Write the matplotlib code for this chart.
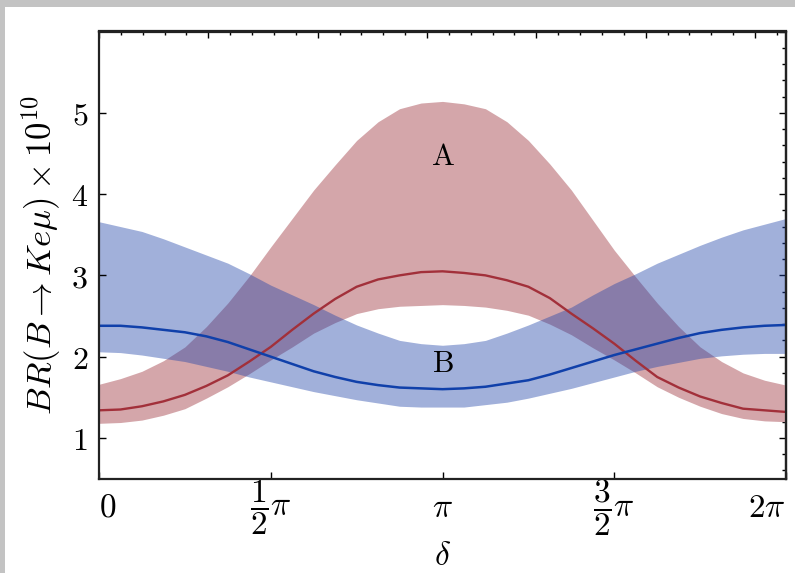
import numpy as np
import matplotlib
matplotlib.use('Agg')
import matplotlib.pyplot as plt
from matplotlib.patches import Rectangle
from matplotlib.ticker import MultipleLocator, NullFormatter

plt.rcParams['mathtext.fontset'] = 'cm'
plt.rcParams['font.family'] = 'serif'
plt.rcParams['font.serif'] = ['DejaVu Serif']

# phase delta sampled every pi/16 from 0 to 2pi
delta = np.linspace(0, 2 * np.pi, 33)

# scenario A: central value and band
red_mid = [1.34, 1.35, 1.39, 1.45, 1.53, 1.64, 1.77, 1.94, 2.12, 2.33, 2.53,
           2.71, 2.86, 2.95, 3.00, 3.04, 3.05, 3.03, 3.00, 2.94, 2.86, 2.72,
           2.53, 2.35, 2.16, 1.95, 1.75, 1.62, 1.51, 1.43, 1.36, 1.34, 1.32]
red_hi = [1.66, 1.73, 1.82, 1.95, 2.12, 2.37, 2.66, 2.99, 3.35, 3.70, 4.05,
          4.36, 4.66, 4.89, 5.05, 5.12, 5.14, 5.11, 5.05, 4.89, 4.66, 4.37,
          4.05, 3.68, 3.31, 2.98, 2.66, 2.37, 2.12, 1.94, 1.80, 1.71, 1.65]
red_lo = [1.18, 1.19, 1.22, 1.28, 1.36, 1.49, 1.63, 1.79, 1.96, 2.12, 2.29,
          2.42, 2.53, 2.59, 2.62, 2.63, 2.64, 2.63, 2.61, 2.57, 2.51, 2.40,
          2.27, 2.11, 1.96, 1.80, 1.63, 1.50, 1.39, 1.30, 1.24, 1.21, 1.20]

# scenario B: central value and band
blue_mid = [2.38, 2.38, 2.36, 2.33, 2.30, 2.25, 2.18, 2.09, 2.00, 1.91, 1.82,
            1.75, 1.69, 1.65, 1.62, 1.61, 1.60, 1.61, 1.63, 1.67, 1.71, 1.78,
            1.86, 1.94, 2.02, 2.09, 2.16, 2.23, 2.29, 2.33, 2.36, 2.38, 2.39]
blue_hi = [3.66, 3.60, 3.54, 3.45, 3.35, 3.25, 3.15, 3.02, 2.88, 2.76, 2.64,
           2.51, 2.39, 2.29, 2.20, 2.16, 2.14, 2.16, 2.20, 2.29, 2.39, 2.50,
           2.61, 2.76, 2.90, 3.02, 3.15, 3.26, 3.37, 3.47, 3.56, 3.63, 3.70]
blue_lo = [2.06, 2.05, 2.02, 1.98, 1.94, 1.88, 1.82, 1.75, 1.69, 1.63, 1.57,
           1.52, 1.47, 1.43, 1.39, 1.38, 1.38, 1.38, 1.41, 1.44, 1.49, 1.55,
           1.61, 1.68, 1.75, 1.82, 1.88, 1.93, 1.98, 2.01, 2.03, 2.04, 2.04]

xtick_pos = [0, np.pi / 2, np.pi, 3 * np.pi / 2, 2 * np.pi]
xtick_labels = [r'$0$', r'$\dfrac{1}{2}\pi$', r'$\pi$', r'$\dfrac{3}{2}\pi$', r'$2\pi$']
ytick_pos = [1, 2, 3, 4, 5]

fig = plt.figure(figsize=(7.95, 5.73), dpi=100)
fig.patch.set_facecolor('#c3c3c3')
fig.add_artist(Rectangle((5 / 795, 0), 1, 1 - 7 / 573, transform=fig.transFigure,
                         facecolor='white', edgecolor='none', zorder=-1))

ax = fig.add_axes([99 / 795, 1 - 478.6 / 573, 687 / 795, 447.1 / 573])

ax.fill_between(delta, red_lo, red_hi, color='#d4a6aa', lw=0)
ax.fill_between(delta, blue_lo, blue_hi, color='#1f43a9', alpha=0.42, lw=0)
ax.plot(delta, red_mid, color='#a2303a', lw=1.7)
ax.plot(delta, blue_mid, color='#1040aa', lw=1.8)

ax.text(np.pi, 4.46, r'$\mathrm{A}$', ha='center', va='center', fontsize=22)
ax.text(np.pi, 1.91, r'$\mathrm{B}$', ha='center', va='center', fontsize=22)

ax.set_xlim(0, 2 * np.pi)
ax.set_ylim(0.5, 6)
ax.set_xticks(xtick_pos)
ax.set_xticklabels(xtick_labels)
ax.set_yticks(ytick_pos)
ax.set_yticklabels([r'$%d$' % v for v in ytick_pos])
ax.tick_params(direction='in', length=5, width=1, top=False, right=False)
ax.tick_params(axis='x', labelsize=24, pad=21)
ax.tick_params(axis='y', labelsize=23, pad=8)

# end labels sit inside the frame, all labels centred on one line
xlabs = ax.get_xticklabels()
for lab in xlabs:
    lab.set_va('center')
xlabs[0].set_ha('left')
xlabs[-1].set_ha('right')

# unlabeled frame ticks on top and right
secx = ax.secondary_xaxis('top')
secx.xaxis.set_major_locator(MultipleLocator(1))
secx.xaxis.set_minor_locator(MultipleLocator(0.2))
secx.xaxis.set_major_formatter(NullFormatter())
secx.tick_params(which='major', direction='in', length=5, width=1)
secx.tick_params(which='minor', direction='in', length=3, width=1)

secy = ax.secondary_yaxis('right')
secy.yaxis.set_major_locator(MultipleLocator(1))
secy.yaxis.set_minor_locator(MultipleLocator(0.2))
secy.yaxis.set_major_formatter(NullFormatter())
secy.tick_params(which='major', direction='in', length=5, width=1)
secy.tick_params(which='minor', direction='in', length=3, width=1)

for a in (ax, secx, secy):
    for s in a.spines.values():
        s.set_linewidth(1.6)
        s.set_color('#222222')

ax.set_ylabel(r'$BR(B \to K e\mu)\times 10^{10}$', fontsize=25, labelpad=6)
ax.set_xlabel(r'$\delta$', fontsize=24, va='center')
ax.xaxis.set_label_coords(0.5, -0.172)

fig.savefig('out.png', dpi=100)
